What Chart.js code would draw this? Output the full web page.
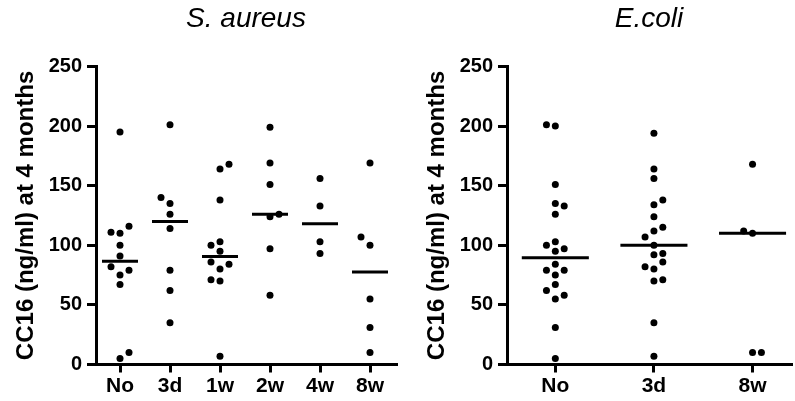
<!DOCTYPE html>
<html>
<head>
<meta charset="utf-8">
<script src="https://cdn.jsdelivr.net/npm/chart.js@4.4.1/dist/chart.umd.min.js"></script>
<style>
  html, body { margin: 0; padding: 0; background: #fff; }
  body { width: 795px; height: 401px; position: relative; overflow: hidden; }
  canvas { position: absolute; top: 0; }
  #left { left: 0; }
  #right { left: 411px; }
</style>
</head>
<body>
<canvas id="left" width="400" height="401"></canvas>
<canvas id="right" width="384" height="401"></canvas>
<script>
const yTicks = [0, 50, 100, 150, 200, 250];
const yTitle = "CC16 (ng/ml) at 4 months";

// S. aureus panel
const aureusCats = ["No", "3d", "1w", "2w", "4w", "8w"];
const aureusValues = [
  [195, 116, 111, 110, 100, 91, 82, 79, 75, 67, 10, 5],
  [201, 140, 135, 126, 114, 79, 62, 35],
  [168, 164, 138, 103, 100, 95, 86, 84, 80, 71, 70, 7],
  [199, 169, 151, 126, 124, 97, 58],
  [156, 133, 103, 93],
  [169, 107, 100, 55, 31, 10],
];
// column slot of each dot in the scatter (-1 left, 0 centre, 1 right)
const aureusSlots = [
  [0, 1, -1, 0, 0, 0, -1, 1, 0, 0, 1, 0],
  [0, -1, 0, 0, 0, 0, 0, 0],
  [1, 0, 0, 0, -1, 0, -1, 1, 0, -1, 0, 0],
  [0, 0, 0, 1, 0, 0, 0],
  [0, 0, 0, 0],
  [0, -1, 0, 0, 0, 0],
];

// E.coli panel
const coliCats = ["No", "3d", "8w"];
const coliValues = [
  [201, 200, 151, 135, 133, 126, 103, 100, 97, 95, 84, 79, 79, 75, 67, 62, 58, 55, 31, 5],
  [194, 164, 156, 138, 134, 124, 115, 112, 107, 100, 93, 92, 86, 82, 80, 71, 70, 35, 7],
  [168, 112, 110, 10, 10],
];
const coliSlots = [
  [-1, 0, 0, 0, 1, 0, 0, -1, 1, 0, 0, -1, 1, 0, 0, -1, 1, 0, 0, 0],
  [0, 0, 0, 1, 0, 0, 1, 0, -1, 0, 1, 0, 1, -1, 0, 1, 0, 0, 0],
  [0, -1, 0, 0, 1],
];

const FONT = 'Arial, "Liberation Sans", sans-serif';

function median(arr) {
  const s = [...arr].sort((a, b) => a - b);
  const m = Math.floor(s.length / 2);
  return s.length % 2 ? s[m] : (s[m - 1] + s[m]) / 2;
}

function drawPanel(id, title, cats, values, slots, xMin, xMax, jitter, halfWidth, padRight) {
  const dots = [];
  values.forEach((group, i) => {
    group.forEach((v, j) => dots.push({ x: i + slots[i][j] * jitter, y: v }));
  });

  // one short horizontal segment per group at the median
  const medianSets = values.map((group, i) => {
    const m = median(group);
    return {
      data: [{ x: i - halfWidth, y: m }, { x: i + halfWidth, y: m }],
      showLine: true,
      borderColor: "#000",
      borderWidth: 3,
      borderCapStyle: "butt",
      pointRadius: 0,
    };
  });

  new Chart(document.getElementById(id), {
    type: "scatter",
    data: {
      datasets: [
        {
          data: dots,
          backgroundColor: "#000",
          borderWidth: 0,
          pointRadius: 3.5,
        },
        ...medianSets,
      ],
    },
    options: {
      responsive: false,
      animation: false,
      layout: { padding: { left: 0, right: padRight, top: 0, bottom: 0 } },
      plugins: {
        legend: { display: false },
        tooltip: { enabled: false },
        title: {
          display: true,
          text: title,
          fullSize: false,
          color: "#000",
          font: { family: FONT, size: 28, style: "italic", weight: "normal" },
          padding: { top: 2, bottom: 30.8 },
        },
      },
      scales: {
        x: {
          type: "linear",
          min: xMin,
          max: xMax,
          afterBuildTicks: (s) => {
            s.ticks = cats.map((c, i) => ({ value: i }));
          },
          afterFit: (s) => {
            s.height = 36.5;
          },
          ticks: {
            callback: (v) => cats[v],
            color: "#000",
            padding: 1,
            maxRotation: 0,
            autoSkip: false,
            font: { family: FONT, size: 21, weight: "bold" },
          },
          grid: { drawOnChartArea: false, tickLength: 8, lineWidth: 3, color: "#000" },
          border: { color: "#000", width: 3 },
        },
        y: {
          min: yTicks[0],
          max: yTicks[yTicks.length - 1],
          afterBuildTicks: (s) => {
            s.ticks = yTicks.map((v) => ({ value: v }));
          },
          afterFit: (s) => {
            s.width = 96;
          },
          ticks: {
            color: "#000",
            padding: 5,
            font: { family: FONT, size: 20, weight: "bold" },
          },
          grid: { drawOnChartArea: false, tickLength: 9, lineWidth: 3, color: "#000" },
          border: { color: "#000", width: 3 },
          title: {
            display: true,
            text: yTitle,
            color: "#000",
            font: { family: FONT, size: 24, weight: "bold" },
            padding: { top: 12, bottom: 0 },
          },
        },
      },
    },
  });
}

drawPanel("left", "S. aureus", aureusCats, aureusValues, aureusSlots, -0.48, 5.52, 0.18, 0.36, 4);
drawPanel("right", "E.coli", coliCats, coliValues, coliSlots, -0.49, 2.39, 0.09, 0.34, 0);
</script>
</body>
</html>
